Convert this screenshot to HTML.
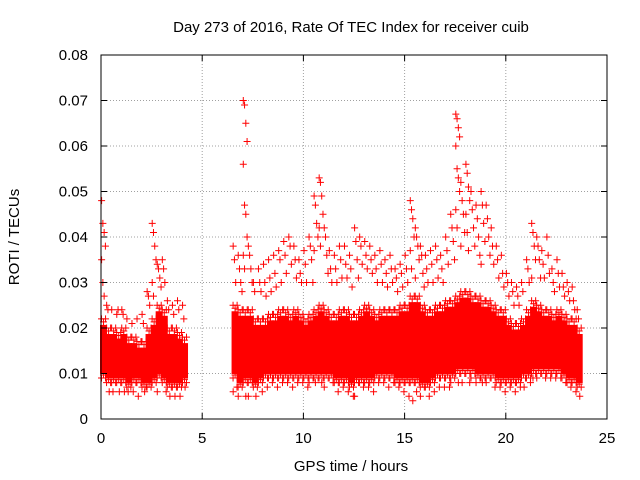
<!DOCTYPE html>
<html><head><meta charset="utf-8"><style>
body{margin:0;background:#fff}
svg{display:block;font-family:"Liberation Sans","DejaVu Sans",sans-serif}
</style></head><body>
<svg id="chart" width="640" height="480">
<text x="351" y="32" text-anchor="middle" font-size="15">Day 273 of 2016, Rate Of TEC Index for receiver cuib</text>
<text x="351" y="471" text-anchor="middle" font-size="15">GPS time / hours</text>
<text x="19" y="237" text-anchor="middle" font-size="15" transform="rotate(-90 19 237)">ROTI / TECUs</text>
<g id="grid"></g>
<g id="marks"></g>
<g id="axes"></g>
</svg>
<script>
const xTicks=[0,5,10,15,20,25];
const yTicks=[0,0.01,0.02,0.03,0.04,0.05,0.06,0.07,0.08];
const yTickLabels=["0","0.01","0.02","0.03","0.04","0.05","0.06","0.07","0.08"];
const binTimes=[0,0.25,0.5,0.75,1,1.25,1.5,1.75,2,2.25,2.5,2.75,3,3.25,3.5,3.75,4,
6.5,6.75,7,7.25,7.5,7.75,8,8.25,8.5,8.75,9,9.25,9.5,9.75,10,10.25,10.5,10.75,11,11.25,11.5,11.75,12,12.25,12.5,12.75,13,13.25,13.5,13.75,14,14.25,14.5,14.75,15,15.25,15.5,15.75,16,16.25,16.5,16.75,17,17.25,17.5,17.75,18,18.25,18.5,18.75,19,19.25,19.5,19.75,20,20.25,20.5,20.75,21,21.25,21.5,21.75,22,22.25,22.5,22.75,23,23.25,23.5];
const coreLo=[9,8,8,8,8,7,8,8,7,7,8,9,8,7,7,7,8,
9,7,8,8,7,8,9,9,9,9,9,9,9,9,9,9,9,9,9,9,8,8,8,7,8,8,8,8,9,9,9,9,8,8,8,8,8,7,7,8,9,9,9,9,10,10,10,10,9,9,9,9,8,8,8,8,8,9,9,10,10,10,10,10,10,9,8,8,7];
const coreHi=[22,20,20,19,20,18,18,17,17,20,22,25,24,20,20,19,18,
25,24,24,24,22,22,22,23,23,24,24,23,24,23,22,23,24,25,24,23,23,24,24,23,23,24,25,24,23,24,24,24,24,25,25,27,27,25,24,24,25,25,26,26,27,28,28,27,27,26,26,25,24,24,22,21,21,22,24,26,25,24,24,23,24,23,22,22,20];
const extras=[[48,43,41,38,35,30,27],[25,24,6],[24,6],[23,24,6],[24,23,6],[22,6],[21,6],[22,5],[23,21,6],[28,27,25],[43,41,38,35,30,27],[34,33,31,29,6],[35,33,30,6],[26,24,5],[25,23,5],[26,24,5],[25,22,7],
[38,35,30,7,6],[36,33,30,28,5],[70,69,65,61,56,47,45,40,36,33,5],[38,36,33,30,5],[30,28,5],[33,30,28,6],[34,30,27,7],[35,31,28,8],[36,32,29,7],[37,35,30,8],[39,36,32,8],[40,38,34,7],[38,35,31,8],[35,32,30,8],[37,34,30,7],[40,38,35,30,8],[49,47,43,40,37,8],[53,52,49,45,42,38,8],[42,40,36,32,7],[37,33,30,8],[36,33,30,6],[38,35,31,7],[38,34,31,6],[36,33,29,5],[42,39,35,31,5],[40,38,34,7],[39,36,33,7],[38,35,32,6],[36,33,30,8],[37,34,30,8],[35,32,29,7],[36,33,30,8],[33,31,28,7],[34,32,29,6],[36,33,30,5],[48,46,44,40,37,33,4],[42,40,38,35,31,6],[38,36,32,29,5],[36,33,30,5],[37,34,30,6],[38,35,31,7],[36,33,30,7],[40,37,34,7],[45,42,39,35,8],[67,66,64,62,60,55,53,50,46,42,8],[52,48,45,41,38,8],[56,54,51,48,45,41,37,8],[50,46,42,38,9],[47,44,40,36,8],[50,47,43,39,34,8],[47,44,40,36,8],[42,38,34,7],[38,35,31,7],[36,32,29,6],[32,30,27,7],[30,28,25,6],[29,27,25,7],[30,28,7],[35,33,30,8],[43,41,38,35,31,9],[40,38,35,31,9],[37,34,31,9],[40,36,32,9],[33,30,28,9],[35,32,29,9],[32,29,27,8],[30,28,26,7],[29,26,24,6],[24,22,5]];

const X0=101,X1=607,Y0=419,Y1=55;
const xs=v=>X0+(v/25)*(X1-X0);
const ys=v=>Y0-(v/0.08)*(Y0-Y1);
const NS="http://www.w3.org/2000/svg";
function mk(tag,attrs,parent){const e=document.createElementNS(NS,tag);for(const k in attrs)e.setAttribute(k,attrs[k]);parent.appendChild(e);return e;}
const grid=document.getElementById('grid'),marks=document.getElementById('marks'),axes=document.getElementById('axes');
xTicks.forEach((t,i)=>{
  if(i>0&&i<xTicks.length-1){const l=mk('line',{x1:xs(t),x2:xs(t),y1:Y0,y2:Y1,stroke:'#a0a0a0','stroke-dasharray':'1,2'},grid);
  
  }
  const tk=mk('path',{d:`M${xs(t)} ${Y0}v-6M${xs(t)} ${Y1}v6`,stroke:'#000'},axes);
  
  
  const tx=mk('text',{x:xs(t),y:443,'text-anchor':'middle','font-size':15},axes);tx.textContent=t;
  
  
});
yTicks.forEach((t,i)=>{
  if(i>0&&i<yTicks.length-1){const l=mk('line',{x1:X0,x2:X1,y1:ys(t),y2:ys(t),stroke:'#a0a0a0','stroke-dasharray':'1,2'},grid);
  
  }
  const tk=mk('path',{d:`M${X0} ${ys(t)}h6M${X1} ${ys(t)}h-6`,stroke:'#000'},axes);
  
  
  const tx=mk('text',{x:88,y:ys(t)+5,'text-anchor':'end','font-size':15},axes);tx.textContent=yTickLabels[i];
  
  
});
const fr=mk('rect',{x:X0,y:Y1,width:X1-X0,height:Y0-Y1,fill:'none',stroke:'#000'},axes);


function cross(x,y,c){const p=mk('path',{d:`M${x-3.5} ${y}h7M${x} ${y-3.5}v7`,stroke:c,'stroke-width':1},marks);
  
  }
const bw=0.25;
binTimes.forEach((t,i)=>{
  const top=ys(coreHi[i]/1000),bot=ys(coreLo[i]/1000);
  const r=mk('rect',{x:xs(t)-1,y:top+6,width:xs(t+bw)-xs(t)+2,height:Math.max(0,bot-top-10),fill:'#ff0000'},marks);
  
  
  [0.1,0.5,0.9].forEach((f,k)=>{
    cross(xs(t+bw*f),top+(k%2)*3,'#ff0000');
    cross(xs(t+bw*f),bot-(k%2)*3,'#ff0000');
  });
  const ex=extras[i];
  ex.forEach((v,j)=>{cross(xs(t+bw*(j%4)/4+0.03),ys(v/1000),'#ff0000');});
});
</script>
</body></html>
